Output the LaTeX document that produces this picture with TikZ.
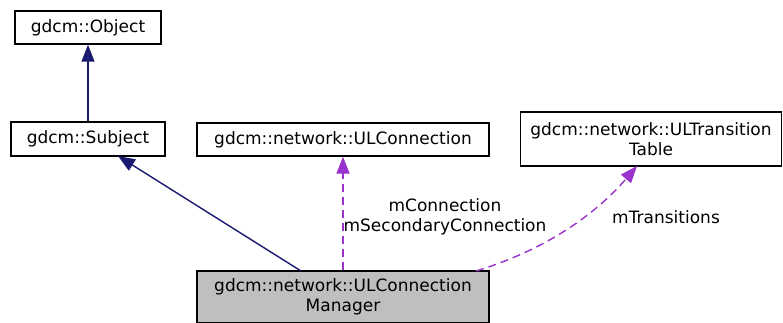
\documentclass[tikz,border=0pt]{standalone}
\usepackage{fontspec}
\setmainfont{DejaVu Sans}
\usetikzlibrary{arrows.meta}
\definecolor{inh}{HTML}{191970}
\definecolor{use}{HTML}{9A32CD}
\definecolor{cur}{HTML}{BFBFBF}
\begin{document}
\begin{tikzpicture}[x=1pt,y=-1pt,
  box/.style={draw=black,line width=1.4pt,inner sep=0pt,align=center,font=\fontsize{17}{20}\selectfont},
  inhline/.style={draw=inh,line width=1.4pt,-{Triangle[width=13pt,length=17pt]}},
  useline/.style={draw=use,line width=1.4pt,dash pattern=on 8pt off 5pt,-{Triangle[width=13pt,length=17pt]}},
  lbl/.style={align=center,inner sep=0pt,font=\fontsize{17}{20}\selectfont}]
\useasboundingbox (0,0) rectangle (783,323);
\node[box,minimum width=146pt,minimum height=33pt] (obj) at (88,27.5) {gdcm::Object};
\node[box,minimum width=154pt,minimum height=34pt] (subj) at (88,139) {gdcm::Subject};
\node[box,minimum width=292pt,minimum height=33pt] (ulc) at (343,139.5) {gdcm::network::ULConnection};
\node[box,minimum width=261pt,minimum height=54pt] (ult) at (651,139) {gdcm::network::ULTransition\\Table};
\node[box,fill=cur,minimum width=292pt,minimum height=52pt] (mgr) at (343,297) {gdcm::network::ULConnection\\Manager};
\coordinate (m1) at (301,271);
\coordinate (s1) at (118,156);
\coordinate (m3) at (476,271);
\coordinate (t1) at (637,166);
\draw[inhline] (subj.north) -- (obj.south);
\draw[inhline] (m1) -- (s1);
\draw[useline] (mgr.north) -- (ulc.south);
\draw[useline] (m3) .. controls (545,250) and (595,215) .. (t1);
\node[lbl] (l1) at (445,217) {mConnection\\mSecondaryConnection};
\node[lbl] (l2) at (666,217) {mTransitions};
\end{tikzpicture}
\end{document}
